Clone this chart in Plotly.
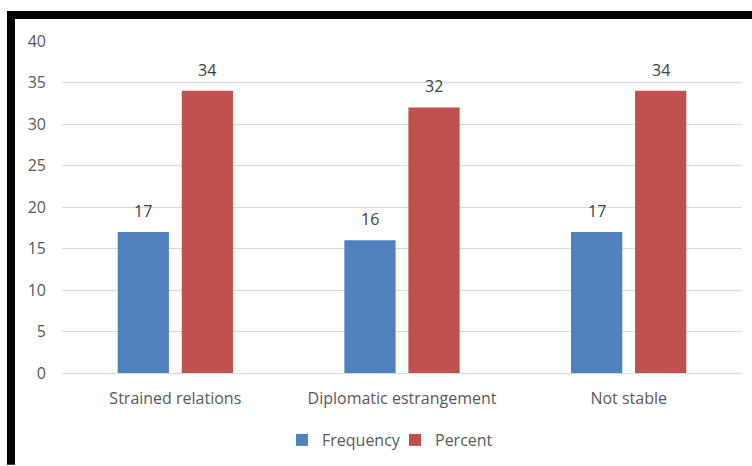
import plotly.graph_objects as go

categories = ["Strained relations", "Diplomatic estrangement", "Not stable"]
frequency = [17, 16, 17]
percent = [34, 32, 34]
series_names = ["Frequency", "Percent"]
y_ticks = [0, 5, 10, 15, 20, 25, 30, 35, 40]

BLUE = "#4F81BD"
RED = "#C0504D"
FONT = "Open Sans"

fig = go.Figure()
fig.add_trace(go.Bar(name=series_names[0], x=categories, y=frequency,
                     marker=dict(color=BLUE, line=dict(width=0))))
fig.add_trace(go.Bar(name=series_names[1], x=categories, y=percent,
                     marker=dict(color=RED, line=dict(width=0))))

annotations = []
for vals, shift in ((frequency, -32), (percent, 32)):
    for c, v in zip(categories, vals):
        annotations.append(dict(x=c, y=v, xref="x", yref="y", text=str(v),
                                showarrow=False, yanchor="bottom", xshift=shift,
                                yshift=8, font=dict(family=FONT, size=16, color="#404040")))

# black frame (top and left) drawn in paper coordinates
L, R, T, B = 62, 10, 41, 92
W, H = 752 - L - R, 466 - T - B
def px(xp):
    return (xp - L) / W
def py(yp):
    return (466 - B - yp) / H

shapes = [
    dict(type="rect", xref="paper", yref="paper", x0=px(7), x1=px(752), y0=py(19), y1=py(11),
         fillcolor="black", line=dict(width=0), layer="above"),
    dict(type="rect", xref="paper", yref="paper", x0=px(7), x1=px(15), y0=py(466), y1=py(11),
         fillcolor="black", line=dict(width=0), layer="above"),
]

fig.update_layout(
    width=752, height=466,
    margin=dict(l=L, r=R, t=T, b=B),
    paper_bgcolor="white", plot_bgcolor="white",
    barmode="group", bargap=0.435, bargroupgap=0.2,
    font=dict(family=FONT, size=16, color="#595959"),
    showlegend=True,
    legend=dict(orientation="h", x=px(395), xanchor="center", y=py(440), yanchor="middle",
                font=dict(family=FONT, size=16, color="#595959"), itemwidth=30,
                entrywidth=68, entrywidthmode="pixels",
                traceorder="normal"),
    annotations=annotations,
    shapes=shapes,
)
fig.update_xaxes(showgrid=False, showline=True, linecolor="#d9d9d9", linewidth=1,
                 ticks="", tickfont=dict(family=FONT, size=16, color="#595959"),
                 ticklabelstandoff=11)
fig.update_yaxes(range=[0, 40], tickvals=y_ticks, showgrid=True, gridcolor="#d9d9d9",
                 gridwidth=1, zeroline=False, showline=False, ticks="",
                 tickfont=dict(family=FONT, size=16, color="#595959"),
                 ticklabelstandoff=15)

fig.write_html("out.html")
